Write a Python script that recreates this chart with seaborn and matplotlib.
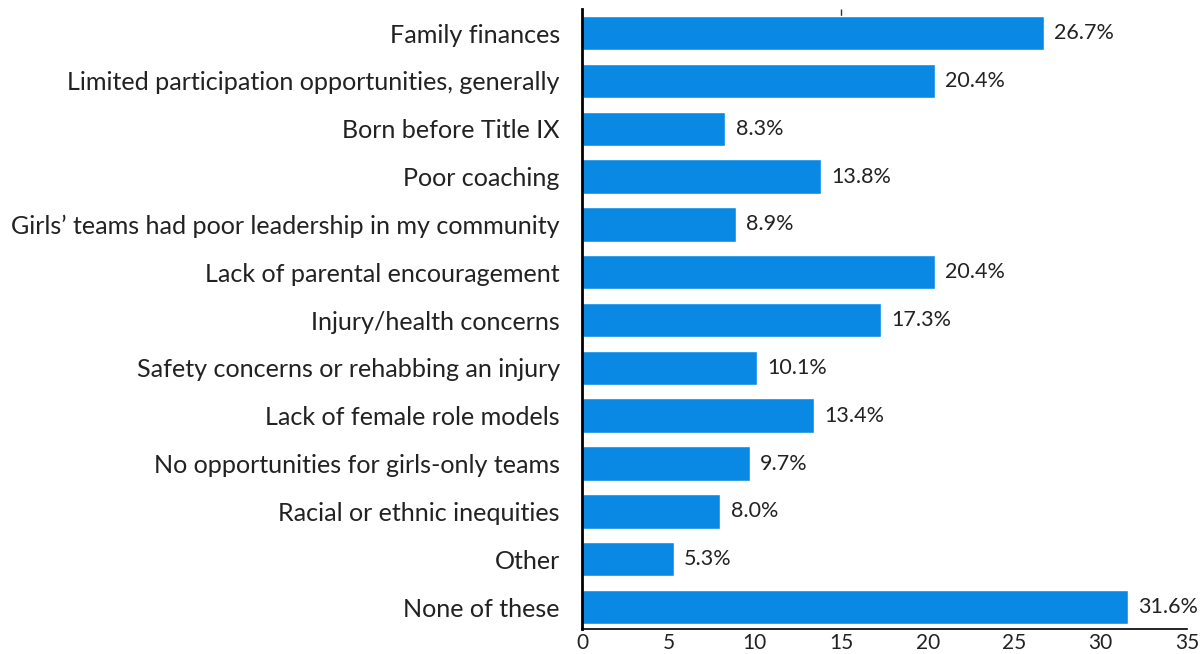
import matplotlib
matplotlib.use("Agg")
import matplotlib.pyplot as plt
import seaborn as sns
import pandas as pd

categories = [
    "Family finances",
    "Limited participation opportunities, generally",
    "Born before Title IX",
    "Poor coaching",
    "Girls\u2019 teams had poor leadership in my community",
    "Lack of parental encouragement",
    "Injury/health concerns",
    "Safety concerns or rehabbing an injury",
    "Lack of female role models",
    "No opportunities for girls-only teams",
    "Racial or ethnic inequities",
    "Other",
    "None of these",
]
values = [26.7, 20.4, 8.3, 13.8, 8.9, 20.4, 17.3, 10.1, 13.4, 9.7, 8.0, 5.3, 31.6]
x_ticks = [0, 5, 10, 15, 20, 25, 30, 35]

df = pd.DataFrame({"reason": categories, "pct": values})

sns.set_theme(style="white")
plt.rcParams["font.family"] = ["Lato", "DejaVu Sans"]

fig = plt.figure(figsize=(12.03, 6.54), dpi=100)
ax = fig.add_axes([0.4838, 0.0382, 0.5029, 0.9478])

bar_color = "#0a89e4"
text_color = "#222222"

sns.barplot(data=df, x="pct", y="reason", orient="h", color=bar_color,
            saturation=1, width=0.72, ax=ax)

for i, v in enumerate(values):
    ax.text(v + 0.6, i, f"{v:.1f}%", va="center", ha="left",
            fontsize=15.5, color=text_color)

ax.set_xlim(0, 35)
ax.set_ylim(len(categories) - 1 + 0.46, -0.5)
ax.set_xticks(x_ticks)
ax.set_xticklabels([str(t) for t in x_ticks])
ax.set_xlabel("")
ax.set_ylabel("")

for s in ["top", "right"]:
    ax.spines[s].set_visible(False)
ax.spines["left"].set_color("#000000")
ax.spines["left"].set_linewidth(2)
ax.spines["bottom"].set_color("#000000")
ax.spines["bottom"].set_linewidth(1.2)

ax.tick_params(axis="x", length=0, labelsize=15, labelcolor=text_color, pad=3)
ax.tick_params(axis="y", length=0, labelsize=18.1, labelcolor=text_color, pad=16)

# single tick mark along the top edge
top = ax.secondary_xaxis("top")
top.set_xticks([15])
top.set_xticklabels([""])
top.tick_params(direction="in", length=7, width=1, color="#333333")
top.spines["top"].set_visible(False)

fig.savefig("out.png", dpi=100, facecolor="white")
